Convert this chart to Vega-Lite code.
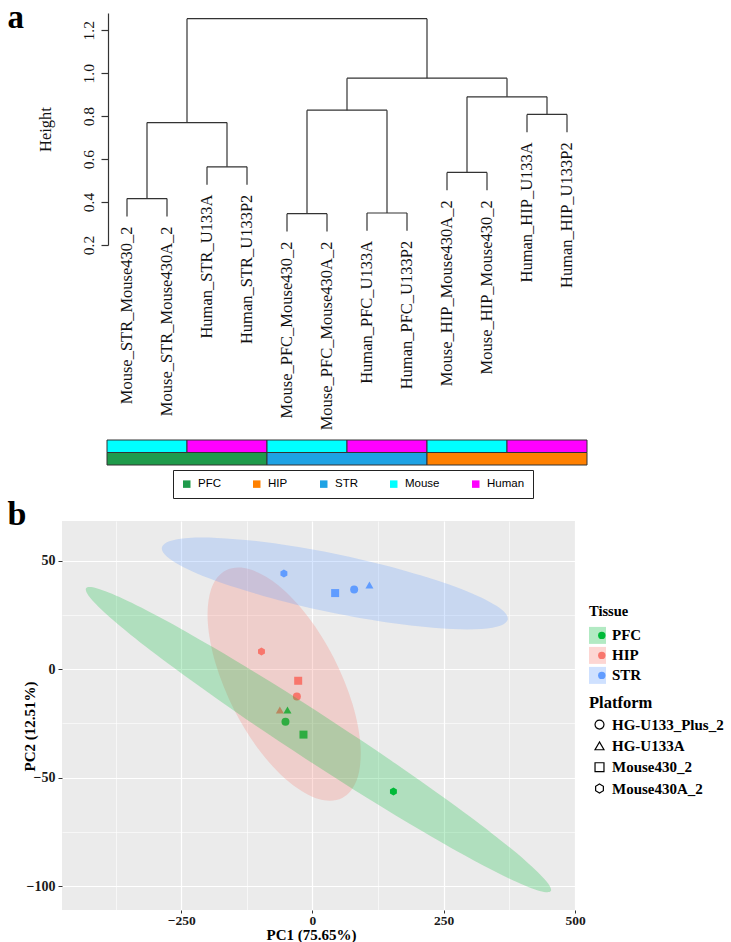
{
  "$schema": "https://vega.github.io/schema/vega-lite/v6.json",
  "padding": {"left": 7, "top": 1, "right": 0, "bottom": 0},
  "config": {"view": {"stroke": null}, "font": "Liberation Serif"},
  "datasets": {
    "merges": [
      {"xl": 1, "xr": 2, "h": 0.416, "hl": 0.333, "hr": 0.333},
      {"xl": 3, "xr": 4, "h": 0.564, "hl": 0.481, "hr": 0.481},
      {"xl": 1.5, "xr": 3.5, "h": 0.770, "hl": 0.416, "hr": 0.564},
      {"xl": 5, "xr": 6, "h": 0.346, "hl": 0.263, "hr": 0.263},
      {"xl": 7, "xr": 8, "h": 0.349, "hl": 0.266, "hr": 0.266},
      {"xl": 5.5, "xr": 7.5, "h": 0.828, "hl": 0.346, "hr": 0.349},
      {"xl": 9, "xr": 10, "h": 0.538, "hl": 0.455, "hr": 0.455},
      {"xl": 11, "xr": 12, "h": 0.808, "hl": 0.725, "hr": 0.725},
      {"xl": 9.5, "xr": 11.5, "h": 0.890, "hl": 0.538, "hr": 0.808},
      {"xl": 6.5, "xr": 10.5, "h": 0.977, "hl": 0.828, "hr": 0.890},
      {"xl": 2.5, "xr": 8.5, "h": 1.254, "hl": 0.770, "hr": 0.977}
    ],
    "leaves": [
      {"pos": 1, "label": "Mouse_STR_Mouse430_2", "end": 0.333},
      {"pos": 2, "label": "Mouse_STR_Mouse430A_2", "end": 0.333},
      {"pos": 3, "label": "Human_STR_U133A", "end": 0.481},
      {"pos": 4, "label": "Human_STR_U133P2", "end": 0.481},
      {"pos": 5, "label": "Mouse_PFC_Mouse430_2", "end": 0.263},
      {"pos": 6, "label": "Mouse_PFC_Mouse430A_2", "end": 0.263},
      {"pos": 7, "label": "Human_PFC_U133A", "end": 0.266},
      {"pos": 8, "label": "Human_PFC_U133P2", "end": 0.266},
      {"pos": 9, "label": "Mouse_HIP_Mouse430A_2", "end": 0.455},
      {"pos": 10, "label": "Mouse_HIP_Mouse430_2", "end": 0.455},
      {"pos": 11, "label": "Human_HIP_U133A", "end": 0.725},
      {"pos": 12, "label": "Human_HIP_U133P2", "end": 0.725}
    ],
    "bars": [
      {"row": "Species", "group": "Mouse", "start": 0.5, "end": 2.5},
      {"row": "Species", "group": "Human", "start": 2.5, "end": 4.5},
      {"row": "Species", "group": "Mouse", "start": 4.5, "end": 6.5},
      {"row": "Species", "group": "Human", "start": 6.5, "end": 8.5},
      {"row": "Species", "group": "Mouse", "start": 8.5, "end": 10.5},
      {"row": "Species", "group": "Human", "start": 10.5, "end": 12.5},
      {"row": "Tissue", "group": "PFC", "start": 0.5, "end": 4.5},
      {"row": "Tissue", "group": "STR", "start": 4.5, "end": 8.5},
      {"row": "Tissue", "group": "HIP", "start": 8.5, "end": 12.5}
    ],
    "pcs": [
      {"tissue": "STR", "platform": "Mouse430A_2", "PC1": -54.4, "PC2": 44.0},
      {"tissue": "STR", "platform": "Mouse430_2", "PC1": 43.2, "PC2": 35.0},
      {"tissue": "STR", "platform": "HG-U133_Plus_2", "PC1": 79.4, "PC2": 36.6},
      {"tissue": "STR", "platform": "HG-U133A", "PC1": 108.5, "PC2": 38.7},
      {"tissue": "HIP", "platform": "Mouse430A_2", "PC1": -97.1, "PC2": 8.1},
      {"tissue": "HIP", "platform": "Mouse430_2", "PC1": -27.2, "PC2": -5.4},
      {"tissue": "HIP", "platform": "HG-U133_Plus_2", "PC1": -29.7, "PC2": -12.6},
      {"tissue": "HIP", "platform": "HG-U133A", "PC1": -62.1, "PC2": -18.9},
      {"tissue": "PFC", "platform": "HG-U133A", "PC1": -47.6, "PC2": -18.9},
      {"tissue": "PFC", "platform": "HG-U133_Plus_2", "PC1": -51.4, "PC2": -24.3},
      {"tissue": "PFC", "platform": "Mouse430_2", "PC1": -17.1, "PC2": -30.2},
      {"tissue": "PFC", "platform": "Mouse430A_2", "PC1": 154.2, "PC2": -56.4}
    ],
    "ellipses": [
      {"cluster": "HIP", "i": 0, "PC1": 56.6, "PC2": -59.4},
      {"cluster": "HIP", "i": 1, "PC1": 11.7, "PC2": -59.9},
      {"cluster": "HIP", "i": 2, "PC1": -43.2, "PC2": -52.3},
      {"cluster": "HIP", "i": 3, "PC1": -99.7, "PC2": -37.9},
      {"cluster": "HIP", "i": 4, "PC1": -149.2, "PC2": -18.7},
      {"cluster": "HIP", "i": 5, "PC1": -184.2, "PC2": 2.3},
      {"cluster": "HIP", "i": 6, "PC1": -199.4, "PC2": 21.9},
      {"cluster": "HIP", "i": 7, "PC1": -192.5, "PC2": 37.1},
      {"cluster": "HIP", "i": 8, "PC1": -164.4, "PC2": 45.5},
      {"cluster": "HIP", "i": 9, "PC1": -119.5, "PC2": 46.0},
      {"cluster": "HIP", "i": 10, "PC1": -64.6, "PC2": 38.5},
      {"cluster": "HIP", "i": 11, "PC1": -8.1, "PC2": 24.0},
      {"cluster": "HIP", "i": 12, "PC1": 41.4, "PC2": 4.8},
      {"cluster": "HIP", "i": 13, "PC1": 76.4, "PC2": -16.2},
      {"cluster": "HIP", "i": 14, "PC1": 91.6, "PC2": -35.7},
      {"cluster": "HIP", "i": 15, "PC1": 84.7, "PC2": -50.9},
      {"cluster": "STR", "i": 0, "PC1": 371.9, "PC2": 22.8},
      {"cluster": "STR", "i": 1, "PC1": 342.5, "PC2": 19.0},
      {"cluster": "STR", "i": 2, "PC1": 267.4, "PC2": 18.4},
      {"cluster": "STR", "i": 3, "PC1": 158.2, "PC2": 21.0},
      {"cluster": "STR", "i": 4, "PC1": 31.3, "PC2": 26.3},
      {"cluster": "STR", "i": 5, "PC1": -93.8, "PC2": 33.7},
      {"cluster": "STR", "i": 6, "PC1": -198.2, "PC2": 41.9},
      {"cluster": "STR", "i": 7, "PC1": -265.9, "PC2": 49.8},
      {"cluster": "STR", "i": 8, "PC1": -286.7, "PC2": 56.0},
      {"cluster": "STR", "i": 9, "PC1": -257.3, "PC2": 59.8},
      {"cluster": "STR", "i": 10, "PC1": -182.2, "PC2": 60.4},
      {"cluster": "STR", "i": 11, "PC1": -73.0, "PC2": 57.9},
      {"cluster": "STR", "i": 12, "PC1": 53.9, "PC2": 52.5},
      {"cluster": "STR", "i": 13, "PC1": 179.0, "PC2": 45.1},
      {"cluster": "STR", "i": 14, "PC1": 283.4, "PC2": 36.9},
      {"cluster": "STR", "i": 15, "PC1": 351.1, "PC2": 29.0},
      {"cluster": "PFC", "i": 0, "PC1": 453.9, "PC2": -102.3},
      {"cluster": "PFC", "i": 1, "PC1": 432.6, "PC2": -102.2},
      {"cluster": "PFC", "i": 2, "PC1": 382.6, "PC2": -97.4},
      {"cluster": "PFC", "i": 3, "PC1": 307.4, "PC2": -88.2},
      {"cluster": "PFC", "i": 4, "PC1": 211.9, "PC2": -75.1},
      {"cluster": "PFC", "i": 5, "PC1": 102.8, "PC2": -59.2},
      {"cluster": "PFC", "i": 6, "PC1": -12.5, "PC2": -41.4},
      {"cluster": "PFC", "i": 7, "PC1": -126.2, "PC2": -23.1},
      {"cluster": "PFC", "i": 8, "PC1": -230.6, "PC2": -5.3},
      {"cluster": "PFC", "i": 9, "PC1": -318.4, "PC2": 10.5},
      {"cluster": "PFC", "i": 10, "PC1": -383.8, "PC2": 23.4},
      {"cluster": "PFC", "i": 11, "PC1": -422.2, "PC2": 32.5},
      {"cluster": "PFC", "i": 12, "PC1": -431.1, "PC2": 37.2},
      {"cluster": "PFC", "i": 13, "PC1": -409.8, "PC2": 37.1},
      {"cluster": "PFC", "i": 14, "PC1": -359.8, "PC2": 32.3},
      {"cluster": "PFC", "i": 15, "PC1": -284.6, "PC2": 23.1},
      {"cluster": "PFC", "i": 16, "PC1": -189.1, "PC2": 10.0},
      {"cluster": "PFC", "i": 17, "PC1": -80.0, "PC2": -5.9},
      {"cluster": "PFC", "i": 18, "PC1": 35.3, "PC2": -23.7},
      {"cluster": "PFC", "i": 19, "PC1": 149.0, "PC2": -42.0},
      {"cluster": "PFC", "i": 20, "PC1": 253.4, "PC2": -59.8},
      {"cluster": "PFC", "i": 21, "PC1": 341.2, "PC2": -75.6},
      {"cluster": "PFC", "i": 22, "PC1": 406.6, "PC2": -88.5},
      {"cluster": "PFC", "i": 23, "PC1": 445.0, "PC2": -97.6}
    ]
  },
  "spacing": -2,
  "resolve": {"scale": {"color": "independent", "fill": "independent", "shape": "independent"}, "legend": {"color": "independent", "fill": "independent", "shape": "independent"}},
  "vconcat": [
    {
      "spacing": 8,
      "resolve": {"scale": {"color": "independent"}, "legend": {"color": "independent"}},
      "vconcat": [
        {
          "width": 530,
          "height": 232,
          "layer": [
            {
              "data": {"name": "merges"},
              "mark": {"type": "rule", "color": "#333333", "strokeWidth": 1.2},
              "encoding": {
                "x": {"field": "xl", "type": "quantitative", "title": "a", "scale": {"domain": [-0.625, 12.625], "nice": false, "zero": false},
                  "axis": {"orient": "top", "labels": false, "ticks": false, "domain": false, "grid": false,
                    "titleX": -55, "titleY": 14, "titleAlign": "left", "titleBaseline": "alphabetic", "titleAngle": 0,
                    "titleFont": "Liberation Serif", "titleFontSize": 33, "titleFontWeight": "bold", "titleColor": "black"}},
                "x2": {"field": "xr"},
                "y": {"field": "h", "type": "quantitative", "title": "Height",
                  "scale": {"domain": [0.2, 1.2805], "nice": false, "zero": false},
                  "axis": {"values": [0.2, 0.4, 0.6, 0.8, 1.0, 1.2], "format": ".1f", "offset": -46, "grid": false,
                    "domainColor": "#333333", "domainWidth": 1.2, "tickColor": "#333333", "tickWidth": 1.2, "tickSize": 7,
                    "labelAngle": 270, "labelAlign": "center", "labelBaseline": "alphabetic", "labelPadding": 7.5,
                    "labelFont": "Liberation Serif", "labelFontSize": 15.5, "labelColor": "#111111", "labelFlush": false, "labelOverlap": false,
                    "titleFont": "Liberation Serif", "titleFontSize": 16.5, "titleFontWeight": "normal", "titleColor": "#111111",
                    "titleAngle": 270, "titleAlign": "center", "titleBaseline": "alphabetic", "titleX": -58}}
              }
            },
            {
              "data": {"name": "merges"},
              "mark": {"type": "rule", "color": "#333333", "strokeWidth": 1.2},
              "encoding": {
                "x": {"field": "xl", "type": "quantitative", "title": "a", "scale": {"domain": [-0.625, 12.625], "nice": false, "zero": false}},
                "y": {"field": "hl", "type": "quantitative", "title": "Height", "scale": {"domain": [0.2, 1.2805], "nice": false, "zero": false}},
                "y2": {"field": "h"}
              }
            },
            {
              "data": {"name": "merges"},
              "mark": {"type": "rule", "color": "#333333", "strokeWidth": 1.2},
              "encoding": {
                "x": {"field": "xr", "type": "quantitative", "title": "a", "scale": {"domain": [-0.625, 12.625], "nice": false, "zero": false}},
                "y": {"field": "hr", "type": "quantitative", "title": "Height", "scale": {"domain": [0.2, 1.2805], "nice": false, "zero": false}},
                "y2": {"field": "h"}
              }
            },
            {
              "data": {"name": "leaves"},
              "mark": {"type": "text", "angle": 270, "align": "right", "baseline": "middle", "dx": -10, "font": "Liberation Serif", "fontSize": 16.5, "color": "#111111"},
              "encoding": {
                "x": {"field": "pos", "type": "quantitative", "title": "a", "scale": {"domain": [-0.625, 12.625], "nice": false, "zero": false}},
                "y": {"field": "end", "type": "quantitative", "title": "Height", "scale": {"domain": [0.2, 1.2805], "nice": false, "zero": false}},
                "text": {"field": "label", "type": "nominal"}
              }
            }
          ]
        },
        {
          "width": 530,
          "height": 25,
          "data": {"name": "bars"},
          "mark": {"type": "rect", "stroke": "#333333", "strokeWidth": 1},
          "encoding": {
            "x": {"field": "start", "type": "quantitative", "scale": {"domain": [-0.625, 12.625], "nice": false, "zero": false}, "axis": null},
            "x2": {"field": "end"},
            "y": {"field": "row", "type": "nominal", "scale": {"domain": ["Species", "Tissue"], "paddingInner": 0, "paddingOuter": 0}, "axis": null},
            "color": {"field": "group", "type": "nominal",
              "scale": {"domain": ["PFC", "HIP", "STR", "Mouse", "Human"], "range": ["#1F9B4B", "#FF8000", "#1EA2E4", "#00FFFF", "#FF00FF"]},
              "legend": {"orient": "none", "legendX": 111, "legendY": 30, "direction": "horizontal", "columns": 5, "title": null,
                "strokeColor": "#222222", "fillColor": "white", "padding": 8, "symbolType": "square", "symbolSize": 56, "symbolStrokeWidth": 0, "symbolOpacity": 1,
                "labelFont": "Liberation Sans", "labelFontSize": 11.5, "labelColor": "black", "labelOffset": 5.5, "columnPadding": 30}}
          }
        }
      ]
    },
    {
      "width": 513,
      "height": 389,
      "view": {"fill": "#EBEBEB", "stroke": null},
      "layer": [
        {
          "data": {"name": "pcs"},
          "mark": {"type": "point", "filled": true, "size": 64, "opacity": 1},
          "encoding": {
            "x": {"field": "PC1", "type": "quantitative", "title": "PC1 (75.65%)",
              "scale": {"domain": [-477, 500], "nice": false, "zero": false},
              "axis": {"values": [-250, 0, 250, 500], "grid": true, "gridColor": "white", "gridWidth": 1.2, "domain": false,
                "tickColor": "#333333", "tickSize": 3, "tickWidth": 1, "labelPadding": 0, "labelFlush": false, "labelOverlap": false,
                "labelFont": "Liberation Serif", "labelFontSize": 13.5, "labelFontWeight": "bold", "labelColor": "#1a1a1a",
                "titleFont": "Liberation Serif", "titleFontSize": 15, "titleFontWeight": "bold", "titleColor": "black",
                "titleX": 249, "titleY": 29, "titleAlign": "center", "titleBaseline": "alphabetic"}},
            "y": {"field": "PC2", "type": "quantitative", "title": "PC2 (12.51%)",
              "scale": {"domain": [-111, 68.2], "nice": false, "zero": false},
              "axis": {"values": [-100, -50, 0, 50], "grid": true, "gridColor": "white", "gridWidth": 1.2, "domain": false,
                "tickColor": "#333333", "tickSize": 4, "tickWidth": 1, "labelPadding": 3, "labelFlush": false, "labelOverlap": false,
                "labelFont": "Liberation Serif", "labelFontSize": 14, "labelFontWeight": "bold", "labelColor": "#1a1a1a",
                "titleFont": "Liberation Serif", "titleFontSize": 15, "titleFontWeight": "bold", "titleColor": "black",
                "titleX": -28, "titleY": 205, "titleAngle": 270, "titleAlign": "center", "titleBaseline": "alphabetic"}},
            "fill": {"field": "tissue", "type": "nominal",
              "scale": {"domain": ["PFC", "HIP", "STR"], "range": ["#00BA38", "#F8766D", "#619CFF"]},
              "legend": {"orient": "none", "legendX": 527, "legendY": 84, "zindex": 2, "title": " ", "titleFont": "Liberation Serif", "titleFontSize": 14.5, "titlePadding": 8.4,
                "symbolType": "circle", "symbolSize": 55, "symbolOffset": 5.3, "symbolStrokeWidth": 0, "symbolOpacity": 1, "labelExpr": "' '", "labelFont": "Liberation Serif", "labelFontSize": 15, "labelOffset": 6,
                "rowPadding": 4, "padding": 0}},
            "shape": {"field": "platform", "type": "nominal",
              "scale": {"domain": ["HG-U133_Plus_2", "HG-U133A", "Mouse430_2", "Mouse430A_2"], "range": ["circle", "triangle-up", "square", "M0,-1L0.866,-0.5L0.866,0.5L0,1L-0.866,0.5L-0.866,-0.5Z"]},
              "legend": {"orient": "none", "legendX": 527, "legendY": 173.6, "title": "Platform", "titleFont": "Liberation Serif", "titleFontSize": 16.5, "titleFontWeight": "bold", "titleColor": "black", "titlePadding": 6,
                "symbolSize": 80, "symbolOffset": 3, "symbolFillColor": "transparent", "symbolStrokeColor": "black", "symbolStrokeWidth": 1.2, "symbolOpacity": 1,
                "labelFont": "Liberation Serif", "labelFontSize": 15, "labelFontWeight": "bold", "labelColor": "black", "labelOffset": 5, "rowPadding": 5.3, "padding": 0}}
          }
        },
        {
          "data": {"name": "ellipses"},
          "mark": {"type": "line", "filled": true, "interpolate": "cardinal-closed", "fillOpacity": 0.25, "strokeWidth": 0},
          "encoding": {
            "x": {"field": "PC1", "type": "quantitative", "title": "b", "scale": {"domain": [-477, 500], "nice": false, "zero": false},
              "axis": {"orient": "top", "values": [-375, -125, 125, 375], "grid": true, "gridColor": "white", "gridWidth": 0.6, "labels": false, "ticks": false, "domain": false,
                "titleX": -55, "titleY": 3, "titleAlign": "left", "titleBaseline": "alphabetic", "titleAngle": 0,
                "titleFont": "Liberation Serif", "titleFontSize": 34, "titleFontWeight": "bold", "titleColor": "black"}},
            "y": {"field": "PC2", "type": "quantitative", "scale": {"domain": [-111, 68.2], "nice": false, "zero": false},
              "axis": {"orient": "right", "values": [-75, -25, 25], "grid": true, "gridColor": "white", "gridWidth": 0.6, "labels": false, "ticks": false, "domain": false, "title": null}},
            "color": {"field": "cluster", "type": "nominal", "sort": ["PFC", "HIP", "STR"],
              "scale": {"range": ["#00BA38", "#F8766D", "#619CFF"]},
              "legend": {"orient": "none", "legendX": 527, "legendY": 84, "zindex": 1, "title": "Tissue", "titleFont": "Liberation Serif", "titleFontSize": 14.5, "titleFontWeight": "bold", "titleColor": "black", "titlePadding": 7.4,
                "symbolType": "square", "symbolSize": 289, "symbolOpacity": 0.3, "symbolStrokeWidth": 0,
                "labelFont": "Liberation Serif", "labelFontSize": 15, "labelFontWeight": "bold", "labelColor": "black", "labelOffset": 6, "rowPadding": 3, "padding": 0}},
            "order": {"field": "i", "type": "quantitative"}
          }
        }
      ],
      "resolve": {"axis": {"x": "independent", "y": "independent"}}
    }
  ]
}
